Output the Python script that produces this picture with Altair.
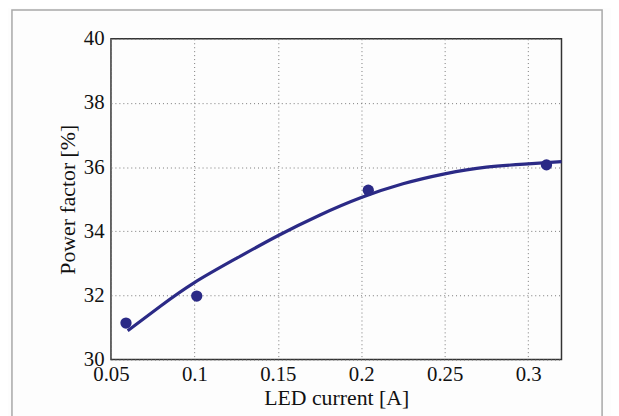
import altair as alt
import pandas as pd

# measured points
meas_x = [0.059, 0.1014, 0.2042, 0.311]
meas_y = [31.14, 31.98, 35.28, 36.07]

# fitted curve
fit_x = [0.06, 0.08, 0.10, 0.125, 0.15, 0.175, 0.20, 0.225, 0.25, 0.275, 0.30, 0.32]
fit_y = [30.9, 31.68, 32.4, 33.15, 33.86, 34.5, 35.05, 35.48, 35.79, 36.0, 36.1, 36.17]

x_ticks = [0.05, 0.1, 0.15, 0.2, 0.25, 0.3]
y_ticks = [30, 32, 34, 36, 38, 40]

W, H = 455, 324
COLOR = "#2b2a86"
FONT = "Liberation Serif"

meas = pd.DataFrame({"x": meas_x, "y": meas_y})
fit = pd.DataFrame({"x": fit_x, "y": fit_y})

xs = alt.Scale(domain=[0.05, 0.32], nice=False, zero=False)
ys = alt.Scale(domain=[30, 40], nice=False, zero=False)

xaxis = alt.Axis(values=x_ticks, title="LED current [A]", labelExpr="format(datum.value, '~g')",
                 grid=True, ticks=False, domain=False, labelPadding=4, titlePadding=3,
                 labelFlush=False)
yaxis = alt.Axis(values=y_ticks, title="Power factor [%]", grid=True, ticks=False,
                 domain=False, labelPadding=7, titlePadding=4)

frame = alt.Chart(pd.DataFrame({"a": [0]})).mark_rect(
    fill=None, stroke="#a8a8a8", strokeWidth=1.5
).encode(
    x=alt.value(-100), x2=alt.value(W + 41), y=alt.value(-29), y2=alt.value(H + 70)
)

line = alt.Chart(fit).mark_line(color=COLOR, strokeWidth=3.2, interpolate="natural").encode(
    x=alt.X("x:Q", scale=xs, axis=xaxis),
    y=alt.Y("y:Q", scale=ys, axis=yaxis),
)

pts = alt.Chart(meas).mark_circle(color=COLOR, size=130, opacity=1).encode(
    x=alt.X("x:Q", scale=xs),
    y=alt.Y("y:Q", scale=ys),
)

chart = alt.layer(frame, line, pts).properties(
    width=W, height=H,
    autosize=alt.AutoSizeParams(type="none"),
    padding={"left": 104, "top": 29, "right": 50, "bottom": 70},
    background="#fdfdfd",
).configure_view(
    stroke="#333333", strokeWidth=1.5
).configure_axis(
    labelFont=FONT, titleFont=FONT, labelFontSize=21, titleFontSize=22,
    labelColor="#111111", titleColor="#111111", titleFontWeight="normal",
    gridColor="#777777", gridDash=[1, 3], gridWidth=1,
)

chart.save("out.html", embed_options={"renderer": "svg", "actions": False})
